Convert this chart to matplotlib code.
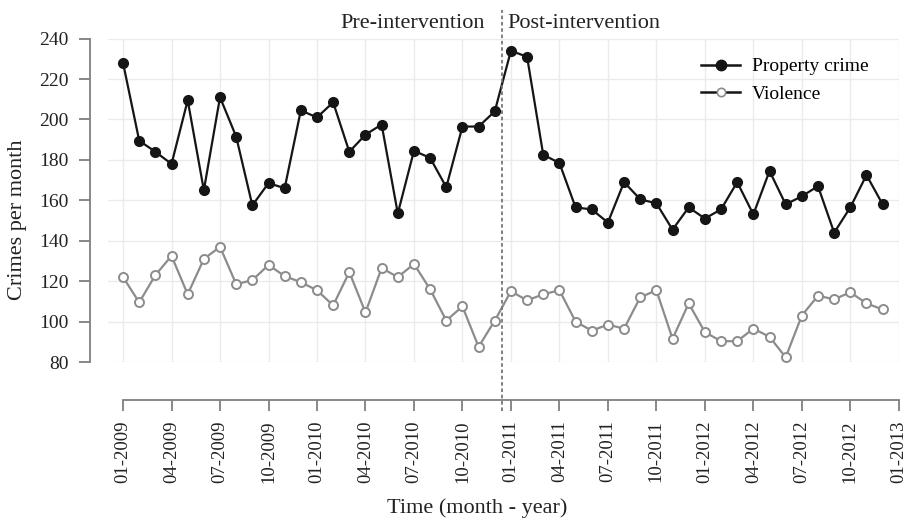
import numpy as np
import matplotlib.pyplot as plt
from matplotlib.lines import Line2D

plt.rcParams['font.family'] = ['Liberation Serif', 'DejaVu Serif']

# monthly counts, Jan 2009 .. Dec 2012
property_crime = [228, 189.5, 184, 178, 209.5, 165, 211, 191.5, 157.5, 168.5, 166, 204.5,
                  201, 208.5, 184, 192.5, 197.5, 153.5, 184.5, 181, 166.5, 196.5, 196.5, 204,
                  234, 231, 182.5, 178.5, 156.5, 155.5, 149, 169, 160.5, 158.5, 145.5, 156.5,
                  151, 155.5, 169, 153, 174.5, 158, 162, 167, 144, 156.5, 172.5, 158]
violence = [122, 109.5, 123, 132.5, 113.5, 131, 137, 118.5, 120.5, 128, 122.5, 119.5,
            115.5, 108, 124.5, 104.5, 126.5, 122, 128.5, 116, 100.5, 107.5, 87.5, 100.5,
            115, 110.5, 113.5, 115.5, 100, 95.5, 98.5, 96.5, 112, 115.5, 91.5, 109,
            94.8, 90.3, 90.3, 96.5, 92.5, 82.3, 103, 112.8, 111, 114.5, 109, 106]
tick_labels = ['01-2009', '04-2009', '07-2009', '10-2009', '01-2010', '04-2010', '07-2010',
               '10-2010', '01-2011', '04-2011', '07-2011', '10-2011', '01-2012', '04-2012',
               '07-2012', '10-2012', '01-2013']
intervention = 23.45

t = np.arange(len(property_crime))
black = '#151515'
grey = '#8c8c8c'
spine_c = '#7f7f7f'
txt_c = '#222222'

fig = plt.figure(figsize=(9.1, 5.22), dpi=100)
ax = fig.add_axes([0.1187, 0.3065, 0.869, 0.6195])

ax.plot(t, property_crime, '-o', color=black, lw=1.6, ms=7, mfc=black, mec=black, zorder=3)
ax.plot(t, violence, '-o', color=grey, lw=1.6, ms=6.5, mfc='white', mec=grey, mew=1.4, zorder=3)

ax.axvline(intervention, ymin=-0.15, ymax=1.09, color='#777777', lw=1.3, ls=(0, (2, 1.5)),
           clip_on=False, zorder=4)
ax.annotate('Pre-intervention', (intervention, 240), xytext=(-12, 11), textcoords='offset points',
            ha='right', va='center', fontsize=16, color=txt_c, annotation_clip=False)
ax.annotate('Post-intervention', (intervention, 240), xytext=(3.5, 11), textcoords='offset points',
            ha='left', va='center', fontsize=16, color=txt_c, annotation_clip=False)

ax.set_xlim(-0.93, 48)
ax.set_ylim(80, 240)
ax.set_yticks(np.arange(80, 241, 20))
ax.set_xticks(np.arange(0, 49, 3))
ax.set_xticklabels(tick_labels)
ax.grid(True, color='#ebebeb', lw=1)
ax.set_axisbelow(True)

for s in ['top', 'right']:
    ax.spines[s].set_visible(False)
ax.spines['left'].set_position(('outward', 13))
ax.spines['left'].set_bounds(80, 240)
ax.spines['bottom'].set_position(('outward', 27))
ax.spines['bottom'].set_bounds(0, 48)
for s in ['left', 'bottom']:
    ax.spines[s].set_color(spine_c)
    ax.spines[s].set_linewidth(1.3)
ax.tick_params(axis='both', colors=spine_c, labelcolor=txt_c, length=8, width=1.3)
ax.tick_params(axis='y', pad=7.5, labelsize=14)
ax.tick_params(axis='x', pad=7, labelsize=13.5, labelrotation=90)

ax.set_ylabel('Crimes per month', fontsize=16, color=txt_c)
ax.yaxis.set_label_coords(-0.103, 0.439)
ax.set_xlabel('Time (month - year)', fontsize=16, color=txt_c)
ax.xaxis.set_label_coords(0.4665, -0.42)

handles = [Line2D([], [], color=black, lw=1.8, marker='o', ms=7.5, mfc=black, mec=black),
           Line2D([], [], color=black, lw=1.8, marker='o', ms=6, mfc='white', mec=grey, mew=1.2)]
ax.legend(handles, ['Property crime', 'Violence'], loc='upper right', frameon=False,
          fontsize=14, bbox_to_anchor=(0.984, 0.995), handlelength=2.0, handletextpad=0.6,
          labelspacing=0.5)

fig.savefig('out.png', dpi=100)
